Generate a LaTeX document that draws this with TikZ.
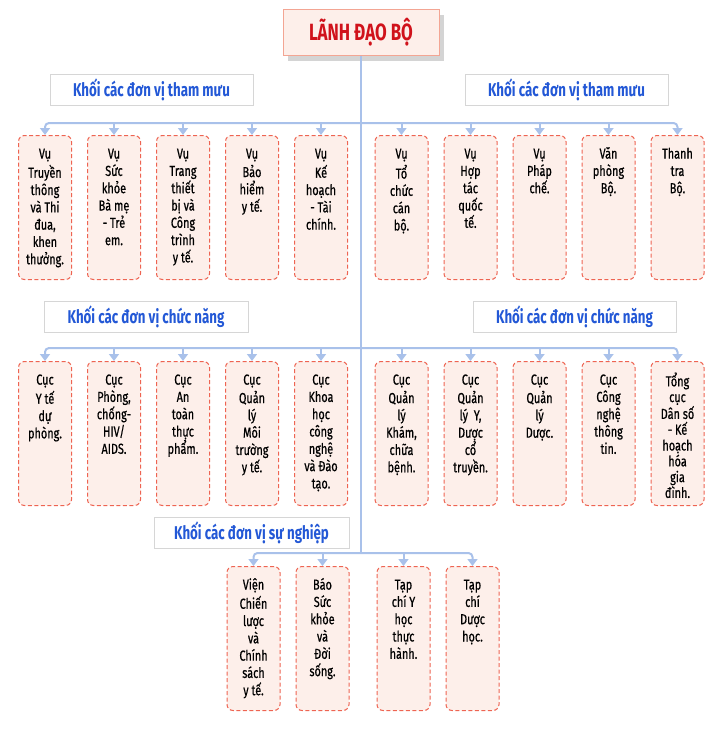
\documentclass[tikz,border=0pt]{standalone}
\usepackage{fontspec}
\setmainfont{Fira Sans}[FakeStretch=0.72]
\newfontfamily\unitfont{Fira Sans}[FakeStretch=0.75, FakeBold=0.6]
\usepackage{tikz}
\usetikzlibrary{arrows.meta, positioning, shadows}

\definecolor{leadred}{HTML}{D0121B}
\definecolor{leadline}{HTML}{F3A593}
\definecolor{unitpink}{HTML}{FDEFEA}
\definecolor{unitred}{HTML}{EE6452}
\definecolor{linkblue}{HTML}{A9C1EA}
\definecolor{groupgrey}{HTML}{D6D6D6}
\definecolor{groupblue}{HTML}{2358D6}

\newcommand{\unittext}[1]{\parbox[c][122pt][t]{50pt}{\centering\strut #1}}

\begin{document}
\begin{tikzpicture}[
  x=1pt, y=-1pt,
  lead/.style  = {rectangle, draw=leadline, fill=unitpink, line width=1pt,
                  minimum width=156pt, minimum height=46pt,
                  font=\bfseries\fontsize{23.5}{28}\selectfont, text=leadred,
                  drop shadow={shadow xshift=5pt, shadow yshift=-6pt,
                               fill=black!17, opacity=1}},
  group/.style = {rectangle, draw=groupgrey, fill=white, line width=1pt,
                  minimum height=31pt,
                  font=\bfseries\fontsize{18.5}{22}\selectfont, text=groupblue},
  unit/.style  = {rectangle, draw=unitred, fill=unitpink, line width=1pt,
                  dash pattern=on 4pt off 2.5pt, rounded corners=6pt,
                  minimum width=53pt, minimum height=144pt, inner sep=0pt,
                  anchor=north, font=\unitfont\fontsize{14.5}{17.3}\selectfont},
  conn/.style  = {draw=linkblue, line width=2pt},
  arr/.style   = {conn, -{Triangle[length=7pt, width=10pt]}},
]
\useasboundingbox (0,0) rectangle (724,734);

% leadership
\node[lead] (lead) at (361,32) {LÃNH ĐẠO BỘ};

% group titles
\node[group, minimum width=203pt] (g1l) at (151.5,89.5) {Khối các đơn vị tham mưu};
\node[group, minimum width=203pt] (g1r) at (566.5,89.5) {Khối các đơn vị tham mưu};
\node[group, minimum width=204pt] (g2l) at (146,317)  {Khối các đơn vị chức năng};
\node[group, minimum width=203pt] (g2r) at (574.5,317) {Khối các đơn vị chức năng};
\node[group, minimum width=195pt] (g3)  at (251.5,533) {Khối các đơn vị sự nghiệp};

% row 1
\node[unit] (a1) at (45,135) {\unittext{Vụ\\Truyền\\thông\\và Thi\\đua,\\khen\\thưởng.}};
\node[unit, right=15pt of a1] (a2) {\unittext{Vụ\\Sức\\khỏe\\Bà mẹ\\- Trẻ\\em.}};
\node[unit, right=15pt of a2] (a3) {\unittext{Vụ\\Trang\\thiết\\bị và\\Công\\trình\\y tế.}};
\node[unit, right=15pt of a3] (a4) {\unittext{Vụ\\Bảo\\hiểm\\y tế.}};
\node[unit, right=15pt of a4] (a5) {\unittext{Vụ\\Kế\\hoạch\\- Tài\\chính.}};
\node[unit] (b1) at (401.5,135) {\unittext{Vụ\\Tổ\\chức\\cán\\bộ.}};
\node[unit, right=15pt of b1] (b2) {\unittext{Vụ\\Hợp\\tác\\quốc\\tế.}};
\node[unit, right=15pt of b2] (b3) {\unittext{Vụ\\Pháp\\chế.}};
\node[unit, right=15pt of b3] (b4) {\unittext{Văn\\phòng\\Bộ.}};
\node[unit, right=15pt of b4] (b5) {\unittext{Thanh\\tra\\Bộ.}};

% row 2
\node[unit] (c1) at (45,361) {\unittext{Cục\\Y tế\\dự\\phòng.}};
\node[unit, right=15pt of c1] (c2) {\unittext{Cục\\Phòng,\\chống-\\HIV/\\AIDS.}};
\node[unit, right=15pt of c2] (c3) {\unittext{Cục\\An\\toàn\\thực\\phẩm.}};
\node[unit, right=15pt of c3] (c4) {\unittext{Cục\\Quản\\lý\\Môi\\trường\\y tế.}};
\node[unit, right=15pt of c4] (c5) {\unittext{Cục\\Khoa\\học\\công\\nghệ\\và Đào\\tạo.}};
\node[unit] (d1) at (401.5,361) {\unittext{Cục\\Quản\\lý\\Khám,\\chữa\\bệnh.}};
\node[unit, right=15pt of d1] (d2) {\unittext{Cục\\Quản\\lý~ Y,\\Dược\\cổ\\truyền.}};
\node[unit, right=15pt of d2] (d3) {\unittext{Cục\\Quản\\lý\\Dược.}};
\node[unit, right=15pt of d3] (d4) {\unittext{Cục\\Công\\nghệ\\thông\\tin.}};
\node[unit, right=15pt of d4, font=\unitfont\fontsize{14.5}{15.8}\selectfont] (d5)
  {\unittext{Tổng\\cục\\Dân số\\- Kế\\hoạch\\hóa\\gia\\đình.}};

% row 3
\node[unit] (e1) at (253.5,566) {\unittext{Viện\\Chiến\\lược\\và\\Chính\\sách\\y tế.}};
\node[unit, right=15pt of e1] (e2) {\unittext{Báo\\Sức\\khỏe\\và\\Đời\\sống.}};
\node[unit] (e3) at (403.5,566) {\unittext{Tạp\\chí Y\\học\\thực\\hành.}};
\node[unit, right=15pt of e3] (e4) {\unittext{Tạp\\chí\\Dược\\học.}};

% junctions on the trunk
\coordinate (j1) at (361,123);
\coordinate (j2) at (361,348);
\coordinate (j3) at (361,553);

% trunk
\draw[conn] (lead.south) -- (j3);

% row 1 connectors
\draw[arr, rounded corners=4pt] (j1) -| (a1.north);
\draw[arr, rounded corners=4pt] (j1) -| (b5.north);
\draw[arr] (a2.north |- j1) -- (a2.north);
\draw[arr] (a3.north |- j1) -- (a3.north);
\draw[arr] (a4.north |- j1) -- (a4.north);
\draw[arr] (a5.north |- j1) -- (a5.north);
\draw[arr] (b1.north |- j1) -- (b1.north);
\draw[arr] (b2.north |- j1) -- (b2.north);
\draw[arr] (b3.north |- j1) -- (b3.north);
\draw[arr] (b4.north |- j1) -- (b4.north);

% row 2 connectors
\draw[arr, rounded corners=4pt] (j2) -| (c1.north);
\draw[arr, rounded corners=4pt] (j2) -| (d5.north);
\draw[arr] (c2.north |- j2) -- (c2.north);
\draw[arr] (c3.north |- j2) -- (c3.north);
\draw[arr] (c4.north |- j2) -- (c4.north);
\draw[arr] (c5.north |- j2) -- (c5.north);
\draw[arr] (d1.north |- j2) -- (d1.north);
\draw[arr] (d2.north |- j2) -- (d2.north);
\draw[arr] (d3.north |- j2) -- (d3.north);
\draw[arr] (d4.north |- j2) -- (d4.north);

% row 3 connectors
\draw[arr, rounded corners=4pt] (j3) -| (e1.north);
\draw[arr, rounded corners=4pt] (j3) -| (e4.north);
\draw[arr] (e2.north |- j3) -- (e2.north);
\draw[arr] (e3.north |- j3) -- (e3.north);
\end{tikzpicture}
\end{document}
